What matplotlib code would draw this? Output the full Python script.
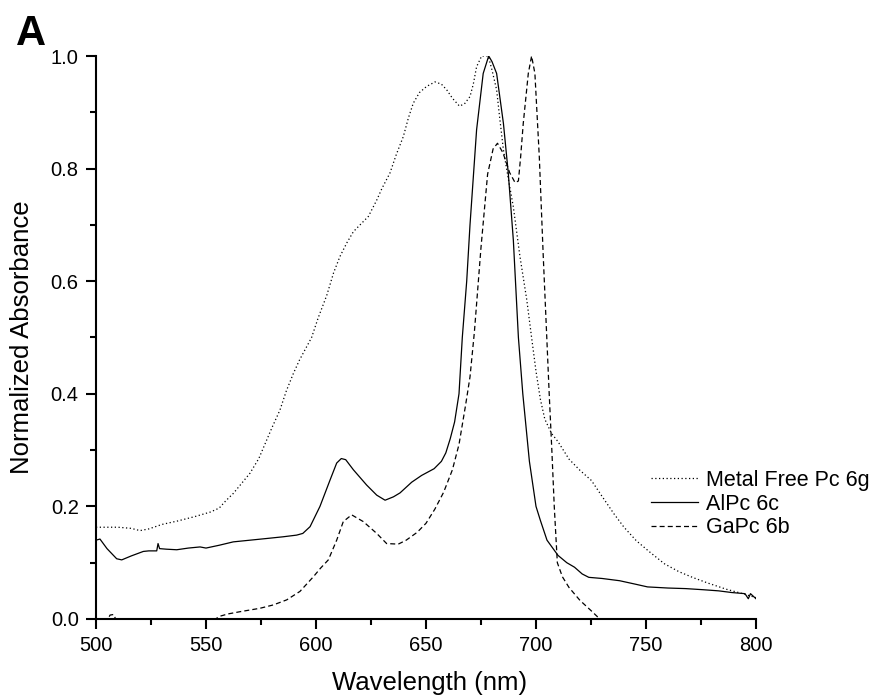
import matplotlib
matplotlib.use("Agg")
import matplotlib.pyplot as plt
import numpy as np

plt.rcParams['font.family'] = ['Liberation Sans', 'DejaVu Sans']

# ---- data ----
mfp_x = [500, 510, 516, 520, 524, 530, 537, 545, 552, 556, 559, 562.4, 566, 570, 574, 577.6, 580,
         583.6, 586.5, 589.7, 592.5, 595.8, 598, 601, 604.9, 608, 610.9, 614, 617, 620, 623.8, 627.6,
         630, 633.6, 636.5, 639.7, 642, 644.2, 647, 650.3, 654.1, 657, 659.4, 662, 665.2, 667.5, 670,
         671.5, 673, 675.3, 678.3, 680, 682.1, 683.5, 685.2, 687.5, 689.7, 692.7, 695.8, 698, 700,
         702, 704, 707, 710, 715, 720, 725.2, 730, 735.4, 740, 745.6, 752, 758.4, 765, 771.1, 778,
         786.4, 793, 800]
mfp_y = [0.163, 0.163, 0.161, 0.157, 0.160, 0.168, 0.174, 0.182, 0.190, 0.197, 0.210, 0.223, 0.240,
         0.259, 0.285, 0.318, 0.340, 0.371, 0.405, 0.436, 0.460, 0.484, 0.500, 0.535, 0.575, 0.615,
         0.644, 0.668, 0.688, 0.700, 0.715, 0.744, 0.765, 0.792, 0.825, 0.857, 0.890, 0.916, 0.935,
         0.946, 0.954, 0.950, 0.940, 0.925, 0.911, 0.915, 0.928, 0.950, 0.981, 1.000, 1.000, 0.975,
         0.940, 0.890, 0.833, 0.780, 0.732, 0.644, 0.567, 0.500, 0.440, 0.390, 0.355, 0.330, 0.315,
         0.284, 0.264, 0.246, 0.218, 0.187, 0.163, 0.139, 0.118, 0.098, 0.084, 0.074, 0.064, 0.053,
         0.046, 0.038]

al_x = [500, 501.8, 505, 509.4, 511.7, 516, 521.5, 524, 527.6, 528.2, 528.9, 532, 536.7, 542, 547.3,
        550, 556, 562.4, 570, 577.6, 585, 591.2, 594, 597.3, 601.8, 606.4, 609.4, 611.5, 613.5, 617,
        623, 627.6, 631.4, 635.2, 638.2, 643.5, 648, 653.7, 657, 659, 661, 663, 665, 666.5, 668.5,
        670, 673, 676, 678.5, 680, 682.1, 685.2, 687.4, 689.7, 692, 694, 697, 700, 702, 705, 710,
        714, 717.5, 721, 724, 730, 738, 745, 750.7, 760, 768, 776, 783, 789, 795, 796.5, 797.5, 800]
al_y = [0.140, 0.142, 0.125, 0.107, 0.105, 0.112, 0.120, 0.121, 0.121, 0.134, 0.125, 0.124, 0.123,
        0.126, 0.128, 0.126, 0.131, 0.137, 0.140, 0.143, 0.146, 0.149, 0.152, 0.164, 0.200, 0.247,
        0.277, 0.285, 0.283, 0.265, 0.238, 0.220, 0.211, 0.217, 0.224, 0.243, 0.255, 0.267, 0.280,
        0.295, 0.320, 0.350, 0.400, 0.500, 0.600, 0.700, 0.869, 0.969, 1.000, 0.990, 0.969, 0.880,
        0.792, 0.673, 0.500, 0.400, 0.280, 0.200, 0.175, 0.140, 0.113, 0.100, 0.092, 0.080, 0.074,
        0.072, 0.068, 0.062, 0.057, 0.055, 0.054, 0.052, 0.050, 0.047, 0.045, 0.036, 0.045, 0.036]

ga_x = [500, 505, 506.4, 508, 509.5, 515, 530, 545, 553, 556.4, 560, 565.5, 570, 574.5, 580.6,
        586.7, 592.7, 598.8, 602, 605.6, 609.4, 612.4, 616.2, 621.5, 627.6, 632.1, 637.4, 641, 646,
        650, 654, 658, 662, 665, 668, 670, 672, 675, 678, 680.5, 682.5, 685, 688, 690.5, 692, 693,
        694.2, 696.5, 698, 699.5, 701.5, 703.3, 704.9, 706, 707.2, 708.3, 709.7, 712, 715, 720, 725,
        729, 735, 750, 800]
ga_y = [-0.010, -0.003, 0.007, 0.008, -0.005, -0.020, -0.020, -0.010, -0.003, 0.005, 0.009, 0.013,
        0.016, 0.019, 0.025, 0.034, 0.049, 0.075, 0.090, 0.105, 0.140, 0.173, 0.185, 0.173, 0.152,
        0.134, 0.133, 0.140, 0.154, 0.170, 0.195, 0.225, 0.265, 0.310, 0.380, 0.430, 0.510, 0.660,
        0.790, 0.835, 0.845, 0.828, 0.793, 0.775, 0.778, 0.820, 0.880, 0.969, 1.000, 0.969, 0.821,
        0.644, 0.500, 0.400, 0.300, 0.200, 0.100, 0.075, 0.056, 0.033, 0.015, 0.000, -0.010, -0.020,
        -0.020]

labels = ["Metal Free Pc 6g", "AlPc 6c", "GaPc 6b"]
x_ticks = [500, 550, 600, 650, 700, 750, 800]
y_ticks = [0.0, 0.2, 0.4, 0.6, 0.8, 1.0]

# ---- figure ----
W, H = 886, 698
fig = plt.figure(figsize=(W / 100, H / 100), dpi=100)
L, R, T, B = 96, 756, 56, 619
ax = fig.add_axes([L / W, 1 - B / H, (R - L) / W, (B - T) / H])

lw = 0.9
ax.plot(mfp_x, mfp_y, color='black', lw=lw, linestyle=(0, (1, 2)), label=labels[0])
ax.plot(al_x, al_y, color='black', lw=lw, linestyle='-', label=labels[1])
ax.plot(ga_x, ga_y, color='black', lw=lw, linestyle=(0, (4, 2.5)), label=labels[2])

ax.set_xlim(500, 800)
ax.set_ylim(0, 1.0)
ax.set_xticks(x_ticks)
ax.set_yticks(y_ticks)
ax.set_xticks(np.arange(525, 800, 50), minor=True)
ax.set_yticks(np.arange(0.1, 1.0, 0.2), minor=True)
ax.set_yticklabels([f"{v:.1f}" for v in y_ticks])

for s in ['top', 'right']:
    ax.spines[s].set_visible(False)
for s in ['left', 'bottom']:
    ax.spines[s].set_linewidth(1.5)
ax.tick_params(which='major', direction='out', length=7.5, width=1.5, labelsize=14.5, pad=5)
ax.tick_params(which='minor', direction='out', length=4, width=1.5)

ax.set_xlabel("Wavelength (nm)", fontsize=18.5, va='center')
ax.xaxis.set_label_coords((430 - L) / (R - L), (B - 683) / (B - T))
ax.set_ylabel("Normalized Absorbance", fontsize=18.5, va='center')
ax.yaxis.set_label_coords((22 - L) / (R - L), 0.5)

leg = ax.legend(loc='center left', bbox_to_anchor=(651 / W, 1 - 504 / H),
                bbox_transform=fig.transFigure, frameon=False, fontsize=15.5,
                handlelength=2.2, handletextpad=0.35, labelspacing=0.12, borderpad=0,
                borderaxespad=0)

fig.text(16 / W, 1 - 45 / H, "A", fontsize=30, fontweight='bold', ha='left', va='baseline')

fig.savefig("out.png", dpi=100)
